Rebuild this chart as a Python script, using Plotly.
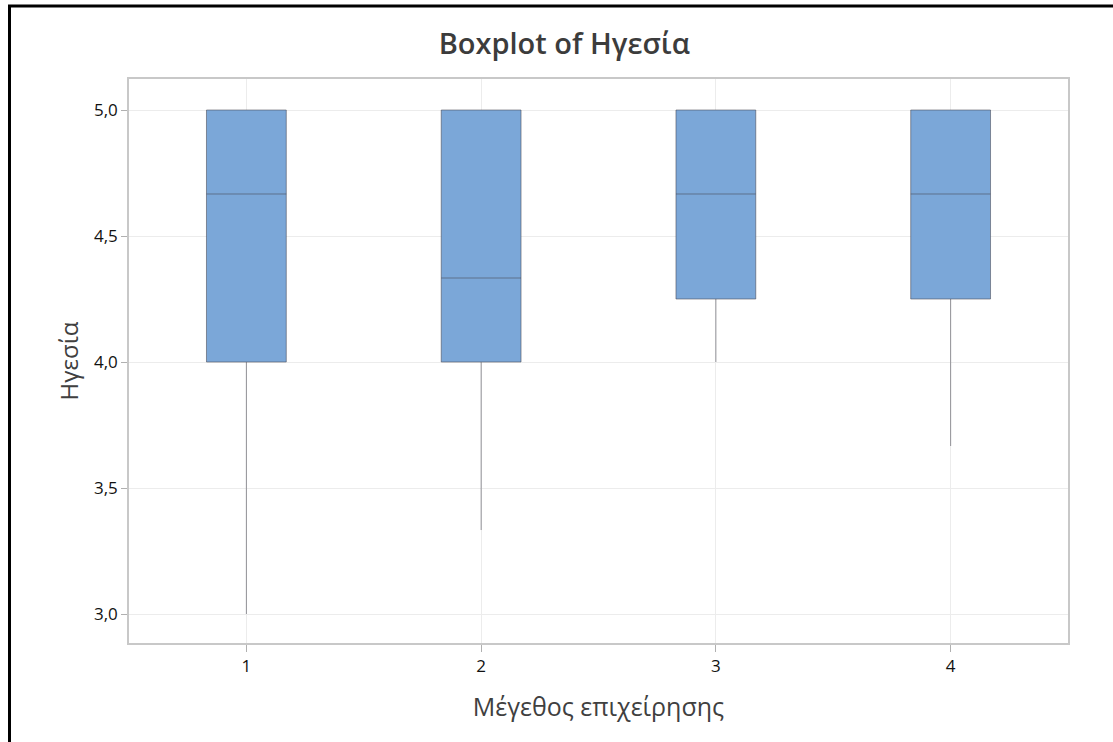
import plotly.graph_objects as go

categories = ["1", "2", "3", "4"]
q1 = [4.0, 4.0, 4.25, 4.25]
median = [4.6667, 4.3333, 4.6667, 4.6667]
q3 = [5.0, 5.0, 5.0, 5.0]
lower = [3.0, 3.3333, 4.0, 3.6667]
upper = [5.0, 5.0, 5.0, 5.0]
xpos = [1, 2, 3, 4]
y_ticks = [3.0, 3.5, 4.0, 4.5, 5.0]
y_tick_text = ["3,0", "3,5", "4,0", "4,5", "5,0"]

fig = go.Figure()
fig.add_trace(go.Box(
    x=xpos, q1=q1, median=median, q3=q3,
    lowerfence=lower, upperfence=upper,
    fillcolor="#7ba7d8",
    line=dict(color="rgba(70,70,80,0.55)", width=1),
    whiskerwidth=0, width=0.34, boxpoints=False,
    hoverinfo="skip", showlegend=False,
))

font_family = "Open Sans, Noto Sans, sans-serif"
W, H = 1113, 742
L, R, T, B = 129, 45, 79, 99
pw, ph = W - L - R, H - T - B

fig.update_layout(
    width=W, height=H,
    margin=dict(l=L, r=R, t=T, b=B),
    paper_bgcolor="white", plot_bgcolor="white",
    font=dict(family=font_family, color="#303030"),
    title=dict(text="Boxplot of Ηγεσία", x=0.507, xanchor="center",
               y=1 - 44 / H, yanchor="middle",
               font=dict(size=29, color="#3c3c3c", family=font_family, weight=600)),
    xaxis=dict(
        range=[0.5, 4.5], tickmode="array", tickvals=xpos, ticktext=categories,
        showgrid=True, gridcolor="#ececec", gridwidth=1,
        showline=True, linecolor="#c8c8c8", linewidth=1.5, mirror=True,
        ticks="outside", ticklen=7, tickcolor="#b0b0b0",
        tickfont=dict(size=17, color="#111111"), zeroline=False,
        title=dict(text="Μέγεθος επιχείρησης", standoff=22,
                   font=dict(size=25, color="#404040")),
    ),
    yaxis=dict(
        range=[2.885, 5.123], tickmode="array", tickvals=y_ticks, ticktext=y_tick_text,
        showgrid=True, gridcolor="#ececec", gridwidth=1,
        showline=True, linecolor="#c8c8c8", linewidth=1.5, mirror=True,
        ticks="outside", ticklen=6, tickcolor="#b0b0b0",
        tickfont=dict(size=17, color="#111111"), zeroline=False,
        title=dict(text="Ηγεσία", standoff=9,
                   font=dict(size=24, color="#404040")),
    ),
)

# black frame around the image (left and top visible)
fig.add_shape(type="rect", xref="paper", yref="paper",
              x0=(9.5 - L) / pw, x1=(W + 20 - L) / pw,
              y0=-(H + 20 - (T + ph)) / ph, y1=1 + (T - 6) / ph,
              line=dict(color="black", width=3), fillcolor="rgba(0,0,0,0)",
              layer="above")

fig.write_html("out.html")
